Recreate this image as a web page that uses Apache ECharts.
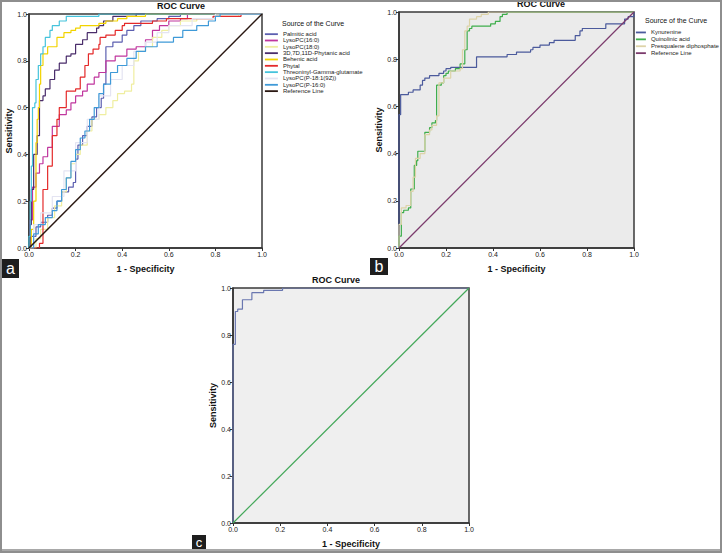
<!DOCTYPE html>
<html><head><meta charset="utf-8">
<script src="https://cdn.jsdelivr.net/npm/echarts@6.0.0/dist/echarts.min.js"></script>
<style>html,body{margin:0;padding:0;background:#fff}#c{width:722px;height:553px}</style>
</head><body><div id="c"></div>
<script>
// ---------- data ----------
const tickLabels = ['0.0','0.2','0.4','0.6','0.8','1.0'];
const titleText = 'ROC Curve';
const xName = '1 - Specificity';
const yName = 'Sensitivity';
const legendHeading = 'Source of the Curve';

// Panel a
const namesA = ['Palmitic acid','LysoPC(16:0)','LysoPC(18:0)','3D,7D,11D-Phytanic acid','Behenic acid','Phytal','Threoninyl-Gamma-glutamate','LysoPC(P-18:1(9Z))','LysoPC(P-16:0)','Reference Line'];
const palmitic = [[0,0],[0.01,0.05],[0.03,0.09],[0.05,0.11],[0.08,0.14],[0.1,0.17],[0.12,0.2],[0.14,0.24],[0.17,0.26],[0.19,0.28],[0.2,0.38],[0.21,0.44],[0.23,0.48],[0.25,0.52],[0.27,0.56],[0.29,0.6],[0.31,0.64],[0.32,0.7],[0.33,0.86],[0.36,0.88],[0.4,0.91],[0.42,0.93],[0.45,0.95],[0.48,0.97],[0.55,0.98],[0.6,0.99],[0.65,1],[1,1]];
const lysoPC160 = [[0,0],[0.005,0.12],[0.015,0.26],[0.03,0.32],[0.045,0.36],[0.06,0.39],[0.08,0.43],[0.1,0.52],[0.13,0.57],[0.16,0.59],[0.18,0.62],[0.2,0.65],[0.23,0.67],[0.25,0.7],[0.28,0.73],[0.3,0.75],[0.33,0.8],[0.37,0.82],[0.42,0.85],[0.46,0.86],[0.5,0.89],[0.53,0.93],[0.56,0.95],[0.6,0.97],[0.65,0.98],[0.68,1],[1,1]];
const lysoPC180 = [[0,0],[0.03,0.04],[0.05,0.08],[0.08,0.13],[0.11,0.18],[0.14,0.24],[0.16,0.3],[0.18,0.36],[0.2,0.4],[0.22,0.44],[0.25,0.5],[0.27,0.55],[0.3,0.57],[0.33,0.6],[0.36,0.63],[0.38,0.66],[0.41,0.67],[0.44,0.7],[0.45,0.8],[0.47,0.84],[0.5,0.86],[0.53,0.9],[0.57,0.93],[0.6,0.95],[0.65,0.97],[0.72,0.98],[0.8,0.99],[0.9,1],[1,1]];
const phytanic = [[0,0],[0.005,0.1],[0.01,0.25],[0.02,0.4],[0.035,0.48],[0.045,0.63],[0.06,0.65],[0.07,0.68],[0.09,0.72],[0.11,0.76],[0.13,0.79],[0.16,0.82],[0.18,0.83],[0.2,0.87],[0.23,0.89],[0.25,0.92],[0.29,0.94],[0.3,0.95],[0.32,0.97],[0.36,0.99],[0.46,1],[1,1]];
const behenic = [[0,0],[0.01,0.08],[0.02,0.2],[0.03,0.45],[0.035,0.55],[0.04,0.6],[0.045,0.7],[0.05,0.78],[0.06,0.83],[0.08,0.86],[0.12,0.9],[0.15,0.92],[0.18,0.93],[0.2,0.94],[0.22,0.95],[0.3,0.96],[0.33,0.97],[0.38,0.98],[0.42,0.99],[0.5,1],[1,1]];
const phytal = [[0,0],[0.03,0],[0.045,0.02],[0.06,0.25],[0.08,0.35],[0.1,0.48],[0.12,0.55],[0.13,0.6],[0.16,0.67],[0.2,0.68],[0.22,0.73],[0.24,0.78],[0.255,0.83],[0.275,0.85],[0.3,0.87],[0.305,0.9],[0.33,0.91],[0.37,0.93],[0.4,0.95],[0.41,0.96],[0.53,0.97],[0.59,0.98],[0.79,0.99],[0.91,1],[1,1]];
const threoninyl = [[0,0],[0,0.05],[0.005,0.2],[0.01,0.35],[0.015,0.6],[0.025,0.62],[0.03,0.72],[0.04,0.78],[0.05,0.83],[0.06,0.86],[0.07,0.9],[0.09,0.93],[0.1,0.95],[0.13,0.97],[0.16,0.99],[0.3,1],[1,1]];
const lysoPCP181 = [[0,0],[0.02,0.1],[0.05,0.15],[0.1,0.22],[0.15,0.33],[0.2,0.45],[0.25,0.55],[0.3,0.65],[0.35,0.72],[0.4,0.78],[0.45,0.84],[0.5,0.88],[0.55,0.92],[0.6,0.95],[0.7,0.98],[0.8,1],[1,1]];
const lysoPCP160 = [[0,0],[0.02,0.06],[0.04,0.1],[0.07,0.13],[0.1,0.16],[0.12,0.2],[0.14,0.25],[0.16,0.3],[0.18,0.37],[0.2,0.42],[0.22,0.47],[0.24,0.5],[0.26,0.55],[0.28,0.6],[0.3,0.66],[0.32,0.7],[0.35,0.75],[0.38,0.78],[0.42,0.81],[0.46,0.84],[0.5,0.86],[0.55,0.88],[0.62,0.9],[0.66,0.93],[0.72,0.95],[0.77,0.97],[0.8,0.99],[0.82,1],[1,1]];
const referenceLine = [[0,0],[1,1]];

// Panel b
const namesB = ['Kynurenine','Quinolinic acid','Presqualene diphosphate','Reference Line '];
const kynurenine = [[0,0],[0,0.565],[0.007,0.65],[0.04,0.66],[0.06,0.67],[0.09,0.69],[0.1,0.71],[0.11,0.72],[0.13,0.73],[0.17,0.74],[0.19,0.75],[0.2,0.76],[0.22,0.765],[0.33,0.81],[0.46,0.82],[0.5,0.83],[0.56,0.84],[0.57,0.85],[0.6,0.86],[0.64,0.87],[0.66,0.88],[0.75,0.9],[0.77,0.92],[0.78,0.93],[0.88,0.95],[0.96,0.97],[0.975,0.98],[1,1]];
const quinolinic = [[0,0],[0,0.05],[0.01,0.15],[0.02,0.16],[0.04,0.17],[0.05,0.25],[0.065,0.35],[0.075,0.37],[0.08,0.41],[0.11,0.49],[0.13,0.51],[0.14,0.53],[0.155,0.54],[0.16,0.69],[0.18,0.7],[0.19,0.73],[0.2,0.74],[0.21,0.75],[0.24,0.76],[0.26,0.78],[0.28,0.84],[0.29,0.92],[0.3,0.93],[0.31,0.94],[0.39,0.95],[0.41,0.96],[0.43,0.98],[0.44,0.99],[0.46,1],[1,1]];
const presqualene = [[0,0],[0,0.1],[0.01,0.17],[0.03,0.18],[0.05,0.24],[0.06,0.3],[0.07,0.38],[0.09,0.4],[0.11,0.48],[0.13,0.5],[0.14,0.52],[0.16,0.56],[0.17,0.7],[0.19,0.72],[0.22,0.75],[0.26,0.76],[0.27,0.84],[0.28,0.92],[0.29,0.94],[0.3,0.97],[0.33,0.98],[0.35,0.99],[0.38,1],[1,1]];

// Panel c
const curveC = [[0,0],[0,0.76],[0.01,0.9],[0.02,0.91],[0.04,0.95],[0.08,0.98],[0.13,0.99],[0.21,1],[1,1]];

// ---------- styling ----------
const FONT = '"Liberation Sans", Arial, sans-serif';
const grids = [
  {left:29, top:14, width:233, height:234, bg:'#ffffff'},
  {left:399, top:12, width:235, height:236, bg:'#ebebeb'},
  {left:233, top:288, width:236, height:235, bg:'#efefef'}
];
function xAx(i){return {type:'value',gridIndex:i,min:0,max:1,interval:0.2,
  name:xName,nameLocation:'middle',nameGap:16,
  nameTextStyle:{fontFamily:FONT,fontWeight:'bold',fontSize:9,color:'#111'},
  axisLine:{show:true,onZero:false,lineStyle:{color:'#333',width:1.5}},
  axisTick:{show:true,length:3,lineStyle:{color:'#333'}},
  axisLabel:{fontFamily:FONT,fontSize:7,color:'#222',margin:3,formatter:v=>tickLabels[Math.round(v/0.2)]},
  splitLine:{show:false}};}
function yAx(i){return {type:'value',gridIndex:i,min:0,max:1,interval:0.2,
  name:yName,nameLocation:'middle',nameGap:16,
  nameTextStyle:{fontFamily:FONT,fontWeight:'bold',fontSize:9,color:'#111'},
  axisLine:{show:true,onZero:false,lineStyle:{color:'#333',width:1.5}},
  axisTick:{show:true,length:3,lineStyle:{color:'#333'}},
  axisLabel:{fontFamily:FONT,fontSize:7,color:'#222',margin:2,formatter:v=>tickLabels[Math.round(v/0.2)]},
  splitLine:{show:false}};}
function ser(name,data,color,gi,w,step){return {name,type:'line',data,xAxisIndex:gi,yAxisIndex:gi,
  step:step===false?false:'end',symbol:'none',showSymbol:false,silent:true,animation:false,
  lineStyle:{color,width:w||1.2},itemStyle:{color},z:3};}

const colorsA = ['#5c5fb0','#c0369e','#efeea0','#4a2d6b','#f2d300','#e42a2a','#45c3dc','#e4e4f2','#3f9ad8','#2a1812'];
const dataA = [palmitic,lysoPC160,lysoPC180,phytanic,behenic,phytal,threoninyl,lysoPCP181,lysoPCP160,referenceLine];
const colorsB = ['#4b5a9c','#3fae4c','#ddd3a8','#7b3a6c'];
const dataB = [kynurenine,quinolinic,presqualene,referenceLine];

const series = [];
namesA.forEach((n,k)=>series.push(ser(n,dataA[k],colorsA[k],0,k===9?1.5:1.2,k===9?false:undefined)));
namesB.forEach((n,k)=>series.push(ser(n,dataB[k],colorsB[k],1,1.2,k===3?false:undefined)));
series.push(ser('Curve c',curveC,'#6a77b0',2,1.2));
series.push(ser('Reference c',referenceLine,'#44a85a',2,1.2,false));

function labelBox(x,y,w,h,t,fs){return {type:'group',children:[
  {type:'rect',shape:{x,y,width:w,height:h},style:{fill:'#1e1e1e'}},
  {type:'text',x:x+w/2,y:y+h/2,style:{text:t,fill:'#fff',font:fs+'px '+FONT,align:'center',verticalAlign:'middle'}}]};}
function txt(x,y,t,font,align){return {type:'text',x,y,style:{text:t,fill:'#111',font,align:align||'center',verticalAlign:'middle'}};}

const option = {
  backgroundColor:'#fff',
  animation:false,
  grid: grids.map(g=>({left:g.left,top:g.top,width:g.width,height:g.height,show:true,backgroundColor:g.bg,borderColor:'#3a3a3a',borderWidth:1.5,containLabel:false})),
  xAxis:[xAx(0),xAx(1),xAx(2)],
  yAxis:[yAx(0),yAx(1),yAx(2)],
  legend:[
    {orient:'vertical',left:264,top:31,padding:0,itemGap:0,itemWidth:13,itemHeight:6.33,data:namesA,selectedMode:false,
     itemStyle:{opacity:0},lineStyle:{width:1.8},
     textStyle:{fontFamily:FONT,fontSize:6,color:'#222',lineHeight:6.33}},
    {orient:'vertical',left:635,top:29,padding:0,itemGap:0,itemWidth:10,itemHeight:6.9,data:namesB,selectedMode:false,
     itemStyle:{opacity:0},lineStyle:{width:1.8},
     textStyle:{fontFamily:FONT,fontSize:6,color:'#222',lineHeight:6.9}}
  ],
  series,
  graphic:[
    txt(181,6,titleText,'bold 9px '+FONT),
    txt(541,4,titleText,'bold 9px '+FONT),
    txt(336,280,titleText,'bold 9px '+FONT),
    txt(282,23,legendHeading,'7px '+FONT,'left'),
    txt(645,20,legendHeading,'7px '+FONT,'left'),
    labelBox(2,259,17,19,'a',16),
    labelBox(370,258,18,17,'b',16),
    labelBox(192,535,14,15,'c',13),
    {type:'rect',shape:{x:0,y:549,width:722,height:4},style:{fill:'#a8a8a8'}},
    {type:'rect',shape:{x:1,y:1,width:720,height:551},style:{fill:'none',stroke:'#8e8e8e',lineWidth:2}}
  ]
};
const chart = echarts.init(document.getElementById('c'),null,{renderer:'svg'});
chart.setOption(option);
</script></body></html>
